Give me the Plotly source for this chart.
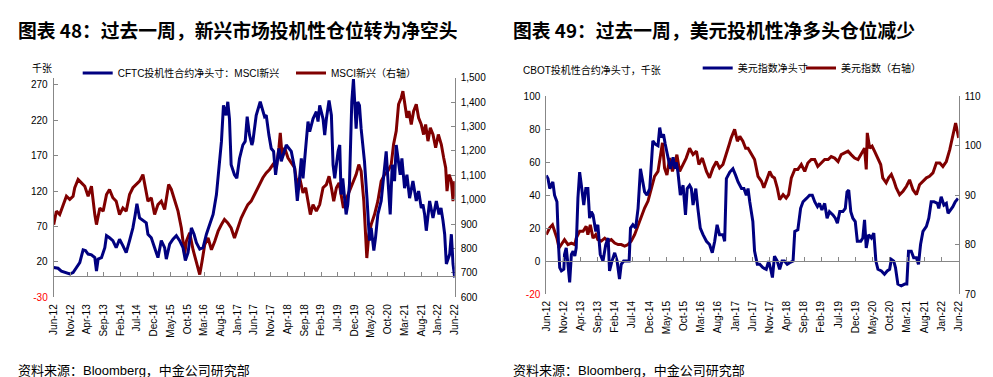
import plotly.graph_objects as go

W, H = 993, 377

# ---------------- data (x = months since Jun-2012) ----------------
x_tick_labels = ["Jun-12", "Nov-12", "Apr-13", "Sep-13", "Feb-14", "Jul-14", "Dec-14", "May-15",
                 "Oct-15", "Mar-16", "Aug-16", "Jan-17", "Jun-17", "Nov-17", "Apr-18", "Sep-18",
                 "Feb-19", "Jul-19", "Dec-19", "May-20", "Oct-20", "Mar-21", "Aug-21", "Jan-22", "Jun-22"]
x_tick_pos = list(range(0, 121, 5))

cftc_month = [0, 1.3, 2.3, 3.8, 4.8, 5.8, 6.8, 7.8, 8.8, 9.5, 10.3, 11.3, 12.3, 12.8, 13.3, 14.3, 15.3, 15.8,
              16.7, 17.7, 18.7, 19.7, 20.7, 21.7, 22.7, 23.7, 24.4, 24.9, 25.7, 26.7, 27.7, 28.2, 29.2, 30.2,
              31.2, 32.2, 33.2, 33.7, 34.7, 35.7, 36.7, 37.7, 38.7, 39.4, 40.2, 41.2, 42.0, 42.7, 43.7, 44.7,
              45.7, 46.7, 47.7, 48.7, 49.4, 50.2, 50.8, 51.6, 52.1, 52.6, 53.1, 54.1, 54.8, 55.6, 56.6, 57.3,
              57.9, 58.6, 59.3, 59.6, 60.6, 61.8, 63.1, 63.6, 64.4, 65.1, 65.8, 66.4, 67.4, 68.1, 69.6, 71.1,
              72.1, 72.9, 73.4, 74.1, 74.6, 75.1, 76.1, 76.6, 77.6, 78.6, 79.1, 79.6, 80.6, 81.1, 81.6, 82.4,
              83.1, 83.6, 84.1, 85.1, 85.6, 86.0, 86.5, 87.5, 88.0, 88.5, 89.2, 89.7, 90.0, 90.5, 91.0, 91.5,
              92.0, 93.0, 93.8, 94.5, 95.0, 95.8, 96.3, 97.0, 98.0, 99.0, 99.5, 100.0, 100.7, 101.3, 102.0,
              102.5, 103.2, 103.7, 104.2, 105.0, 105.7, 106.5, 107.5, 108.5, 109.2, 110.0, 110.5, 111.0,
              111.5, 112.5, 113.5, 114.5, 115.3, 115.9, 116.5, 117.0, 117.5, 118.5, 119.0, 119.5, 120.0]
cftc_value = [12, 11, 7, 4, 3, 5, 13, 19, 37, 36, 31, 30, 26, 7, 24, 26, 40, 57,
              54, 50, 40, 52, 43, 33, 50, 68, 87, 102, 82, 78, 75, 59, 54, 40,
              26, 50, 40, 24, 45, 52, 57, 50, 40, 22, 33, 68, 59, 47, 38, 40,
              59, 73, 87, 115, 148, 190, 241, 227, 246, 222, 157, 143, 138, 166, 185, 190,
              225, 199, 185, 190, 227, 246, 225, 227, 199, 180, 176, 143, 180, 162, 185, 176,
              152, 106, 129, 166, 138, 166, 218, 204, 222, 232, 218, 241, 222, 199, 222, 248,
              227, 157, 138, 176, 185, 115, 138, 87, 101, 129, 246, 278, 255, 208, 246, 241,
              208, 162, 106, 50, 68, 36, 54, 87, 106, 152, 176, 138, 87, 157, 134,
              185, 162, 143, 166, 124, 143, 110, 134, 106, 120, 96, 101, 87,
              64, 106, 82, 106, 87, 96, 78, 59, 17, 31, 59, 17, -2]

msci_month = [0, 0.8, 1.8, 2.8, 3.8, 4.8, 5.8, 6.3, 7.3, 8.3, 9.3, 10.3, 11.3, 12.3, 12.8, 13.8, 14.8, 15.8,
              16.7, 17.7, 18.7, 19.7, 20.7, 21.7, 22.7, 23.7, 24.7, 25.7, 26.7, 27.4, 28.2, 29.2, 30.2, 31.2,
              32.2, 33.2, 34.4, 35.2, 36.2, 37.2, 38.2, 39.2, 39.7, 40.7, 41.7, 42.7, 43.7, 44.4, 45.2, 46.2,
              47.2, 48.2, 49.2, 50.2, 51.1, 52.1, 53.1, 54.1, 55.1, 56.1, 57.1, 58.1, 59.1, 60.6, 61.6, 62.6,
              63.6, 64.6, 65.6, 66.6, 67.4, 67.8, 68.4, 69.1, 70.1, 71.1, 72.1, 72.8, 73.6, 74.6, 75.4, 76.1,
              76.8, 77.6, 78.6, 79.6, 80.6, 81.6, 82.4, 83.1, 83.8, 84.6, 85.4, 86.0, 86.7, 87.5, 88.5, 89.5,
              90.5, 91.3, 92.0, 92.8, 93.3, 93.7, 94.3, 95.0, 96.0, 97.0, 98.0, 99.0, 100.0, 101.0, 101.7,
              102.5, 103.2, 104.0, 104.5, 105.0, 105.7, 106.3, 107.0, 107.7, 108.5, 109.2, 110.0, 110.7,
              111.3, 112.0, 112.7, 113.5, 114.3, 115.1, 116.0, 116.7, 117.3, 117.7, 118.3, 119.0, 119.5, 120.0]
msci_value = [898, 953, 939, 980, 1014, 1001, 1014, 1049, 1083, 1069, 1055, 1014, 1055, 939, 898, 966, 953, 1021,
              1042, 1008, 994, 939, 966, 953, 1021, 1049, 1062, 1076, 1103, 1049, 994, 1008, 939, 980,
              994, 960, 1062, 1042, 994, 953, 884, 775, 830, 864, 795, 748, 693, 748, 816, 843,
              795, 830, 871, 898, 919, 905, 884, 843, 884, 925, 953, 980, 994, 1035, 1069, 1090,
              1110, 1124, 1144, 1131, 1213, 1274, 1172, 1213, 1172, 1151, 1131, 1062, 1090, 1028, 1049, 994,
              939, 980, 953, 980, 1049, 1062, 1096, 1049, 994, 1049, 1069, 1021, 966, 1001, 1035, 1062,
              1103, 1144, 1117, 994, 884, 761, 857, 898, 939, 994, 1076, 1103, 1117, 1144, 1226,
              1281, 1391, 1418, 1445, 1391, 1336, 1363, 1308, 1363, 1391, 1336, 1308, 1267,
              1308, 1240, 1295, 1267, 1213, 1267, 1226, 1172, 1131, 1035, 1103, 1076, 994, 1076]

cbot_month = [0, 0.5, 1.0, 1.5, 1.9, 2.4, 3.1, 3.6, 3.9, 4.4, 5.1, 5.3, 5.8, 6.3, 6.8, 7.3, 7.8, 8.3, 8.7,
              9.2, 9.7, 10.2, 10.9, 11.5, 12.1, 12.6, 13.1, 13.6, 14.4, 15.0, 15.7, 16.5, 17.3, 18.0, 18.4,
              19.1, 19.9, 20.6, 21.3, 21.8, 22.5, 23.3, 24.1, 24.5, 25.2, 26.0, 26.7, 27.4, 28.0, 28.6, 29.3,
              30.1, 31.0, 31.7, 32.5, 33.0, 33.5, 34.1, 34.6, 35.4, 36.1, 36.9, 37.4, 37.8, 38.3, 39.0, 39.8,
              40.5, 41.0, 41.7, 42.2, 42.7, 43.5, 44.1, 44.8, 45.6, 46.6, 47.5, 48.3, 49.0, 49.7, 50.4, 51.4,
              51.9, 52.4, 53.4, 54.3, 55.1, 55.8, 56.8, 57.5, 58.2, 58.7, 59.2, 59.7, 60.1, 60.6, 61.4, 62.1,
              63.0, 64.0, 64.7, 65.3, 65.8, 66.4, 67.2, 67.9, 68.6, 69.3, 70.1, 70.8, 71.8, 72.3, 73.2, 74.0,
              74.7, 75.7, 76.6, 77.4, 78.1, 78.9, 79.5, 80.2, 81.0, 81.7, 82.4, 83.4, 84.1, 84.7, 85.4, 86.3,
              87.0, 87.5, 88.0, 88.6, 89.2, 89.9, 90.5, 91.5, 92.1, 92.6, 93.1, 93.8, 94.6, 95.3, 95.9, 96.5,
              97.5, 98.4, 99.2, 99.9, 100.4, 101.1, 101.6, 102.3, 103.3, 104.3, 104.9, 105.4, 106.2, 106.9,
              107.7, 108.3, 108.9, 109.6, 110.6, 111.3, 112.0, 112.8, 113.8, 114.2, 114.9, 115.7, 116.4,
              116.9, 117.7, 118.3, 119.0, 119.8]
cbot_value = [52, 50, 44, 46, 48, 40, 36, 8, -4, -6, -5, 4, 8, -2, -13, 4, 6, 3, 8,
              38, 54, 46, 34, 44, 44, 26, 30, 28, 18, 22, 4, 0, 10, 14, -6,
              0, 5, 0, -11, -2, 0, 0, 0, 20, 22, 20, 32, 56, 50, 42, 40,
              44, 73, 71, 70, 81, 75, 77, 71, 63, 56, 63, 56, 60, 54, 40, 46,
              28, 44, 46, 44, 34, 44, 32, 20, 16, 12, 10, 5, 12, 22, 16, 16,
              12, 50, 54, 56, 52, 48, 44, 44, 40, 44, 36, 28, 24, 6, -2, -2,
              -4, -5, 0, -5, -10, 3, 0, -5, 0, 0, -2, -1, 0, 18, 19, 32,
              36, 38, 40, 40, 36, 33, 35, 31, 35, 26, 30, 28, 26, 23, 30, 30,
              32, 42, 43, 30, 26, 24, 12, 12, 14, 25, 8, 16, 14, 17, 0, -5,
              -6, -8, -6, -5, 1, 0, -4, -14, -15, -14, -14, 6, 6, 2,
              2, -2, 10, 18, 21, 26, 36, 36, 35, 32, 39, 34, 35,
              29, 31, 33, 36, 38]

dxy_month = [0, 1.0, 1.8, 2.4, 3.1, 3.7, 4.4, 5.3, 6.3, 7.3, 8.3, 8.7, 9.7, 10.7, 11.6, 12.1, 12.8, 13.6, 14.4,
             15.0, 16.0, 17.0, 18.0, 18.9, 19.9, 20.9, 21.8, 22.8, 23.8, 24.7, 25.7, 26.7, 27.7, 28.6, 29.6,
             30.6, 31.5, 32.5, 33.2, 33.8, 34.4, 35.1, 35.9, 36.7, 37.3, 38.0, 38.8, 39.8, 40.7, 41.7, 42.7,
             43.7, 44.4, 45.4, 46.6, 47.5, 48.5, 49.5, 50.4, 51.4, 52.4, 53.2, 53.8, 54.8, 55.6, 56.3, 57.2,
             58.0, 58.7, 59.7, 60.6, 61.6, 62.6, 63.3, 64.3, 65.0, 65.7, 66.4, 67.2, 67.9, 68.9, 69.8, 70.5,
             71.3, 72.3, 73.2, 74.2, 75.2, 76.1, 77.1, 78.1, 79.0, 80.0, 81.0, 82.0, 82.9, 83.9, 84.9, 85.8,
             86.8, 87.8, 88.7, 89.7, 90.7, 91.7, 92.6, 93.1, 93.4, 94.1, 94.8, 95.5, 96.5, 97.3, 97.9, 98.9,
             99.6, 100.4, 101.2, 101.8, 102.8, 103.8, 104.8, 105.7, 106.7, 107.7, 108.6, 109.6, 110.6, 111.5,
             112.5, 113.5, 114.5, 115.4, 116.4, 117.4, 118.0, 118.6, 119.1, 119.6, 120.0]
dxy_value = [82.0, 83.4, 84.0, 82.7, 81.3, 79.3, 80.0, 81.0, 80.0, 80.3, 80.0, 81.3, 82.7, 82.7, 83.7, 82.0, 84.0, 81.3, 82.0,
             81.0, 80.7, 81.3, 80.7, 81.0, 80.3, 80.0, 80.0, 79.7, 80.0, 80.7, 82.0, 84.0, 85.7, 87.4, 88.8,
             91.5, 93.8, 94.8, 98.2, 100.6, 95.5, 94.1, 97.5, 94.8, 96.2, 98.2, 94.8, 96.2, 97.5, 99.5, 98.2,
             98.9, 96.2, 97.5, 94.8, 93.5, 95.5, 96.8, 95.5, 96.2, 98.2, 100.2, 101.6, 103.3, 100.9, 101.9, 100.9,
             99.5, 99.5, 98.2, 97.2, 93.8, 92.8, 91.5, 93.5, 94.8, 93.8, 93.5, 91.5, 89.1, 90.1, 89.4, 90.1,
             93.5, 95.2, 95.2, 96.2, 94.8, 96.5, 97.2, 97.2, 95.8, 96.5, 97.2, 97.2, 97.8, 97.5, 96.8, 98.2,
             98.5, 98.9, 98.2, 97.5, 97.2, 98.5, 99.5, 95.2, 102.6, 99.5, 99.9, 98.9, 97.5, 96.2, 93.5, 92.5,
             93.5, 94.2, 92.8, 91.5, 90.1, 90.8, 91.8, 93.1, 91.1, 90.1, 92.1, 92.8, 93.5, 93.8,
             94.5, 96.5, 96.5, 95.8, 96.8, 99.2, 100.9, 102.9, 104.6, 102.9, 101.6]

left_y_ticks = [-30, 20, 70, 120, 170, 220, 270]
left_y2_ticks = [600, 700, 800, 900, 1000, 1100, 1200, 1300, 1400, 1500]
right_y_ticks = [-20, 0, 20, 40, 60, 80, 100]
right_y2_ticks = [70, 80, 90, 100, 110]

# ---------------- styling ----------------
BLUE = "#000080"
RED = "#800000"
AXC = "#878787"
FONT = "Liberation Sans, Arial, Noto Sans CJK SC, sans-serif"
CJK = "Noto Sans CJK SC, sans-serif"
LW = 3

# plot-area geometry (px)
L_x0, L_x1, L_top, L_bot = 45.7, 446.7, 69.7, 289.3
R_x0, R_x1, R_top, R_bot = 538.3, 950.7, 88.3, 286.0
L_xd = [L_x0 / W, L_x1 / W]
L_yd = [(H - L_bot) / H, (H - L_top) / H]
R_xd = [R_x0 / W, R_x1 / W]
R_yd = [(H - R_bot) / H, (H - R_top) / H]
L_yr = [-30, 280]
R_yr = [-20, 100]


def zero_pos(dom, rng):
    return dom[0] + (0 - rng[0]) / (rng[1] - rng[0]) * (dom[1] - dom[0])


def tick_text(vals, red_first=False, fmt="{:d}"):
    out = []
    for i, v in enumerate(vals):
        s = fmt.format(v)
        if red_first and i == 0:
            s = "<span style='color:#ff0000'>" + s + "</span>"
        out.append(s)
    return out


fig = go.Figure()
fig.add_trace(go.Scatter(x=cftc_month, y=cftc_value, mode="lines", name="CFTC投机性合约净头寸：MSCI新兴",
                         line=dict(color=BLUE, width=LW), xaxis="x3", yaxis="y", legend="legend"))
fig.add_trace(go.Scatter(x=msci_month, y=msci_value, mode="lines", name="MSCI新兴（右轴）",
                         line=dict(color=RED, width=LW), xaxis="x", yaxis="y2", legend="legend2"))
fig.add_trace(go.Scatter(x=cbot_month, y=cbot_value, mode="lines", name="美元指数净头寸",
                         line=dict(color=BLUE, width=LW), xaxis="x4", yaxis="y3", legend="legend3"))
fig.add_trace(go.Scatter(x=dxy_month, y=dxy_value, mode="lines", name="美元指数（右轴）",
                         line=dict(color=RED, width=LW), xaxis="x2", yaxis="y4", legend="legend4"))

tickfont = dict(family=FONT, size=10, color="#000000")

xlab_common = dict(range=[0, 120], tickvals=x_tick_pos, ticktext=x_tick_labels, tickangle=-90,
                   showline=False, ticks="", showgrid=False, zeroline=False, tickfont=tickfont,
                   ticklabelstandoff=4)
xline_common = dict(range=[0, 120], tickvals=x_tick_pos, showticklabels=False, showline=True,
                    linecolor=AXC, linewidth=1, ticks="inside", ticklen=4, tickcolor=AXC,
                    showgrid=False, zeroline=False, anchor="free")
y_common = dict(showline=True, linecolor=AXC, linewidth=1, ticks="inside", ticklen=4, tickcolor=AXC,
                showgrid=False, zeroline=False, tickfont=tickfont, ticklabelstandoff=3)

OFF = 17  # legend box edge to sample line start (px)


def leg(sample_x, y_px):
    return dict(orientation="h", x=(sample_x - OFF) / W, xanchor="left", y=(H - y_px) / H,
                yanchor="middle", font=dict(family=FONT, size=10, color="#000"),
                bgcolor="rgba(0,0,0,0)", itemwidth=30)


fig.update_layout(
    width=W, height=H, margin=dict(l=0, r=0, t=0, b=0, autoexpand=False),
    paper_bgcolor="white", plot_bgcolor="rgba(0,0,0,0)", showlegend=True,
    xaxis=dict(domain=L_xd, anchor="y", **xlab_common),
    xaxis3=dict(domain=L_xd, overlaying="x", position=zero_pos(L_yd, L_yr), **xline_common),
    yaxis=dict(domain=L_yd, anchor="x", range=L_yr, tickvals=left_y_ticks,
               ticktext=tick_text(left_y_ticks, True), **y_common),
    yaxis2=dict(domain=L_yd, anchor="x", overlaying="y", side="right", range=[600, 1500],
                tickvals=left_y2_ticks, ticktext=tick_text(left_y2_ticks, False, "{:,}"), **y_common),
    xaxis2=dict(domain=R_xd, anchor="y3", **xlab_common),
    xaxis4=dict(domain=R_xd, overlaying="x2", position=zero_pos(R_yd, R_yr), **xline_common),
    yaxis3=dict(domain=R_yd, anchor="x2", range=R_yr, tickvals=right_y_ticks,
                ticktext=tick_text(right_y_ticks, True), **y_common),
    yaxis4=dict(domain=R_yd, anchor="x2", overlaying="y3", side="right", range=[70, 110],
                tickvals=right_y2_ticks, ticktext=tick_text(right_y2_ticks), **y_common),
    legend=leg(86.7, 65),
    legend2=leg(300, 65),
    legend3=leg(706.7, 60),
    legend4=leg(810, 60),
)

for text, x in [("<b>图表 48：过去一周，新兴市场投机性仓位转为净空头</b>", 8),
                ("<b>图表 49：过去一周，美元投机性净多头仓位减少</b>", 503)]:
    fig.add_annotation(text=text, x=x / W, y=(H - 21) / H, xref="paper", yref="paper",
                       xanchor="left", yanchor="middle", showarrow=False,
                       font=dict(family=CJK, size=18.8, color="#000"))
for t, x, y in [("千张", 22, 60), ("CBOT投机性合约净头寸，千张", 513, 62)]:
    fig.add_annotation(text=t, x=x / W, y=(H - y) / H, xref="paper", yref="paper", xanchor="left",
                       yanchor="middle", showarrow=False, font=dict(family=FONT, size=10, color="#000"))
for x in [8, 503]:
    fig.add_annotation(text="资料来源：Bloomberg，中金公司研究部", x=x / W, y=(H - 362) / H, xref="paper",
                       yref="paper", xanchor="left", yanchor="middle", showarrow=False,
                       font=dict(family=FONT, size=13, color="#000"))

fig.write_html("out.html")
